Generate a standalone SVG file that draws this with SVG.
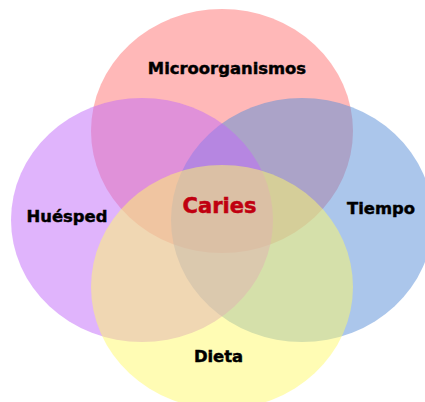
<svg xmlns="http://www.w3.org/2000/svg" width="425" height="402" viewBox="0 0 425 402">
<style>
.set{fill-opacity:0.5}
.lbl{font-family:"DejaVu Sans","Verdana",sans-serif;font-weight:bold;font-size:16.4px;fill:#000;stroke:#000;stroke-width:0.45;text-anchor:middle}
.core{font-family:"DejaVu Sans","Verdana",sans-serif;font-weight:bold;font-size:21px;fill:#C00010;stroke:#C00010;stroke-width:0.5;text-anchor:middle}
</style>
<rect width="425" height="402" fill="#fff"/>
<g id="microorganismos"><ellipse class="set" cx="222" cy="131" rx="131" ry="122" fill="#FF7171"/></g>
<g id="tiempo"><ellipse class="set" cx="302" cy="220" rx="131" ry="122" fill="#578DD7"/></g>
<g id="huesped"><ellipse class="set" cx="142" cy="220" rx="131" ry="122" fill="#C169F9"/></g>
<g id="dieta"><ellipse class="set" cx="222" cy="287" rx="131" ry="122" fill="#FFF969"/></g>
<g id="labels">
<text class="lbl" x="227" y="74">Microorganismos</text>
<text class="lbl" x="67" y="222">Huésped</text>
<text class="lbl" x="381" y="214">Tiempo</text>
<text class="lbl" x="218.5" y="362">Dieta</text>
<text class="core" x="219.5" y="213">Caries</text>
</g>
</svg>
